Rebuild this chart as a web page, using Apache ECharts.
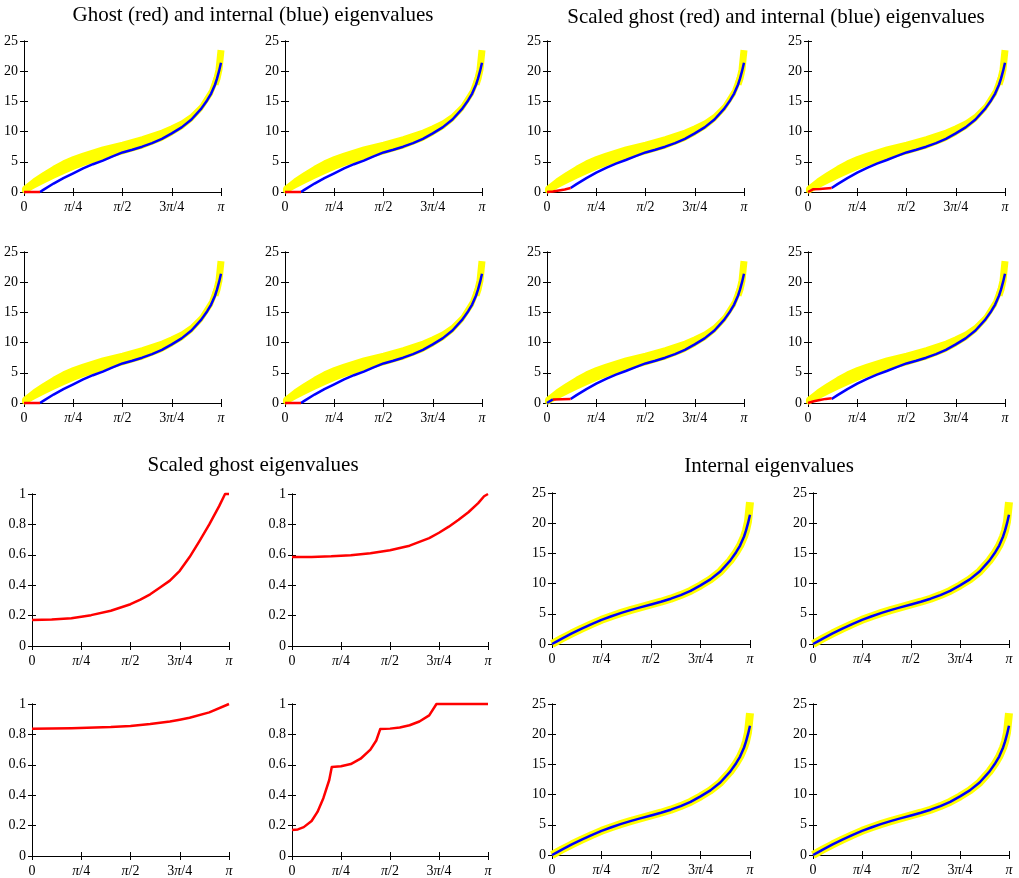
<!DOCTYPE html>
<html><head><meta charset="utf-8">
<script src="https://cdn.jsdelivr.net/npm/echarts@6/dist/echarts.min.js"></script>
<style>html,body{margin:0;padding:0;background:#fff}#c{width:1019px;height:878px}</style>
</head><body><div id="c"></div>
<script>
// ---------- tick labels / titles ----------
const thetaTicks = ['0', 'π/4', 'π/2', '3π/4', 'π'];
const titles = ['Ghost (red) and internal (blue) eigenvalues', 'Scaled ghost (red) and internal (blue) eigenvalues', 'Scaled ghost eigenvalues', 'Internal eigenvalues'];

// ---------- data (x in units of π) ----------
// internal eigenvalues (bottom-right panels)
const intX = [0, 0.025, 0.05, 0.1, 0.15, 0.2, 0.25, 0.3, 0.35, 0.4, 0.45, 0.5, 0.55, 0.6, 0.65, 0.7, 0.75, 0.8, 0.85, 0.9, 0.93, 0.95, 0.97, 0.98, 0.99, 1.0];
const intY = [0, 0.45, 0.9, 1.75, 2.55, 3.3, 4.0, 4.6, 5.15, 5.65, 6.1, 6.55, 7.0, 7.5, 8.1, 8.8, 9.7, 10.7, 12.0, 13.8, 15.2, 16.3, 17.8, 18.8, 20.0, 21.4];
// yellow reference curve (bottom-right panels)
const refX = [0, 0.025, 0.05, 0.1, 0.15, 0.2, 0.25, 0.3, 0.35, 0.4, 0.45, 0.5, 0.55, 0.6, 0.65, 0.7, 0.75, 0.8, 0.85, 0.9, 0.93, 0.95, 0.97, 0.98, 0.99, 1.0];
const refY = [0, 0.45, 0.9, 1.75, 2.55, 3.3, 4.0, 4.6, 5.15, 5.65, 6.1, 6.55, 7.0, 7.5, 8.1, 8.8, 9.7, 10.7, 12.0, 13.8, 15.2, 16.3, 17.8, 18.8, 20.3, 23.5];
// yellow band (top panels): lower and upper edges, plus the thick end piece
const bandX = [0, 0.05, 0.1, 0.15, 0.2, 0.25, 0.3, 0.4, 0.5, 0.6, 0.7, 0.75, 0.8, 0.85, 0.9, 0.95, 0.98, 0.99];
const bandLow = [0, 0.9, 1.75, 2.55, 3.3, 4.0, 4.6, 5.65, 6.55, 7.5, 8.8, 9.7, 10.7, 12.0, 13.8, 16.3, 18.8, 20.3];
const bandUp = [0.6, 1.9, 3.0, 4.0, 4.9, 5.6, 6.2, 7.2, 8.0, 8.9, 10.0, 10.7, 11.5, 12.6, 14.2, 16.8, 19.5, 20.6];
const bandTipX = [0.97, 0.98, 0.99, 1.0];
const bandTipY = [17.8, 18.8, 20.3, 23.5];
// top-left group
const tlRedX = [0, 0.081];
const tlRedY = [0, 0];
const tlBlueX = [0.081, 0.1, 0.15, 0.2, 0.25, 0.3, 0.35, 0.4, 0.45, 0.5, 0.55, 0.6, 0.65, 0.7, 0.75, 0.8, 0.85, 0.9, 0.93, 0.95, 0.97, 0.98, 0.99, 1.0];
const tlBlueY = [0, 0.4, 1.4, 2.3, 3.1, 3.9, 4.6, 5.2, 5.9, 6.55, 7.0, 7.5, 8.1, 8.8, 9.7, 10.7, 12.0, 13.8, 15.2, 16.3, 17.8, 18.8, 20.0, 21.4];
// top-right group
const trBlueX = [0.12, 0.15, 0.2, 0.25, 0.3, 0.35, 0.4, 0.45, 0.5, 0.55, 0.6, 0.65, 0.7, 0.75, 0.8, 0.85, 0.9, 0.93, 0.95, 0.97, 0.98, 0.99, 1.0];
const trBlueY = [0.65, 1.3, 2.3, 3.2, 4.0, 4.7, 5.3, 5.95, 6.55, 7.0, 7.5, 8.1, 8.8, 9.7, 10.7, 12.0, 13.8, 15.2, 16.3, 17.8, 18.8, 20.0, 21.4];
const tr1RedX = [0, 0.03, 0.06, 0.09, 0.12];
const tr1RedY = [0, 0.1, 0.25, 0.42, 0.65];
const tr2RedX = [0, 0.025, 0.06, 0.12];
const tr2RedY = [0, 0.45, 0.5, 0.65];
const tr3StartX = [0, 0.03];
const tr3StartY = [0, 0.6];
const tr3RedX = [0.03, 0.12];
const tr3RedY = [0.6, 0.65];
const tr4RedX = [0, 0.03, 0.06, 0.09, 0.12];
const tr4RedY = [0, 0.3, 0.5, 0.68, 0.8];
// bottom-left group (scaled ghost eigenvalues)
const bl1X = [0, 0.1, 0.2, 0.25, 0.3, 0.4, 0.5, 0.55, 0.6, 0.65, 0.7, 0.75, 0.8, 0.85, 0.9, 0.95, 0.98, 1.0];
const bl1Y = [0.171, 0.175, 0.183, 0.193, 0.203, 0.232, 0.275, 0.305, 0.34, 0.385, 0.43, 0.495, 0.585, 0.69, 0.80, 0.92, 1.0, 1.0];
const bl2X = [0, 0.1, 0.2, 0.3, 0.4, 0.5, 0.6, 0.7, 0.75, 0.8, 0.85, 0.9, 0.95, 0.98, 1.0];
const bl2Y = [0.585, 0.586, 0.59, 0.597, 0.61, 0.63, 0.66, 0.71, 0.745, 0.785, 0.83, 0.88, 0.94, 0.985, 1.0];
const bl3X = [0, 0.2, 0.4, 0.5, 0.6, 0.7, 0.75, 0.8, 0.9, 1.0];
const bl3Y = [0.837, 0.84, 0.848, 0.856, 0.868, 0.885, 0.897, 0.91, 0.945, 1.0];
const bl4X = [0, 0.03, 0.06, 0.1, 0.13, 0.16, 0.19, 0.203, 0.25, 0.3, 0.35, 0.4, 0.43, 0.45, 0.5, 0.55, 0.6, 0.65, 0.7, 0.737, 1.0];
const bl4Y = [0.171, 0.175, 0.19, 0.23, 0.29, 0.38, 0.50, 0.585, 0.59, 0.605, 0.64, 0.70, 0.76, 0.835, 0.838, 0.845, 0.86, 0.885, 0.925, 1.0, 1.0];

// ---------- layout ----------
const FONT = 'Liberation Serif';
const RED = '#ff0000', BLUE = '#0000ff', YEL = '#ffff00';
const rects = [
  [24, 41, 197, 151], [285, 41, 197, 151], [24, 252, 197, 151], [285, 252, 197, 151],
  [547, 41, 197, 151], [808, 41, 197, 151], [547, 252, 197, 151], [808, 252, 197, 151],
  [32, 494, 197, 152], [292, 494, 196, 152], [32, 704, 197, 152], [292, 704, 196, 152],
  [552, 493, 198, 151], [813, 493, 196, 151], [552, 704, 198, 151], [813, 704, 196, 151]
];
const titlePos = [[253, 5], [776, 7], [253, 455], [769, 456]];

const zip = (xs, ys) => xs.map((x, i) => [x, ys[i]]);
const grid = [], xAxis = [], yAxis = [], series = [];
const axLine = { show: true, lineStyle: { color: '#000', width: 1 } };
const tick = { show: true, inside: true, length: 4, lineStyle: { color: '#000', width: 1 } };

rects.forEach((r, gi) => {
  grid.push({ left: r[0], top: r[1], width: r[2], height: r[3], containLabel: false });
  const scaled = gi >= 8 && gi < 12;
  xAxis.push({ gridIndex: gi, type: 'value', min: 0, max: 1, interval: 0.25, position: 'bottom',
    axisLine: axLine, axisTick: tick, splitLine: { show: false },
    axisLabel: { margin: 8, color: '#000', fontFamily: FONT, fontSize: 14,
      formatter: v => { const s = thetaTicks[Math.round(v * 4)]; return s.replace('π', '{i|π}'); },
      rich: { i: { fontStyle: 'italic', fontFamily: FONT, fontSize: 14, color: '#000' } } } });
  xAxis.push({ gridIndex: gi, type: 'value', min: 0, max: 1, interval: 0.25, position: 'top',
    axisLine: axLine, axisTick: tick, splitLine: { show: false }, axisLabel: { show: false } });
  yAxis.push({ gridIndex: gi, type: 'value', min: 0, max: scaled ? 1 : 25, interval: scaled ? 0.2 : 5, position: 'left',
    axisLine: axLine, axisTick: tick, splitLine: { show: false },
    axisLabel: { margin: 6, color: '#000', fontFamily: FONT, fontSize: 14 } });
  yAxis.push({ gridIndex: gi, type: 'value', min: 0, max: scaled ? 1 : 25, interval: scaled ? 0.2 : 5, position: 'right',
    axisLine: axLine, axisTick: tick, splitLine: { show: false }, axisLabel: { show: false } });
});

function line(gi, xs, ys, color, width, z, extra) {
  series.push(Object.assign({ type: 'line', xAxisIndex: gi * 2, yAxisIndex: gi * 2, data: zip(xs, ys),
    showSymbol: false, symbol: 'none', clip: false, z: z, silent: true, animation: false,
    lineStyle: { color: color, width: width, cap: 'butt', join: 'round' } }, extra || {}));
}
function band(gi) {
  // filled region between the lower and upper yellow edges
  series.push({ type: 'custom', xAxisIndex: gi * 2, yAxisIndex: gi * 2, data: [[0, 0]], clip: false, silent: true, z: 1,
    animation: false,
    renderItem: (params, api) => {
      const up = bandX.map((x, i) => api.coord([x, bandUp[i]]));
      const lo = bandX.map((x, i) => api.coord([x, bandLow[i]])).reverse();
      return { type: 'polygon', shape: { points: up.concat(lo) }, style: { fill: YEL, stroke: YEL, lineWidth: 4, lineJoin: 'bevel' } };
    } });
  line(gi, bandTipX, bandTipY, YEL, 7, 1);
}
// top-left
for (let gi = 0; gi < 4; gi++) {
  band(gi);
  line(gi, tlBlueX, tlBlueY, BLUE, 2.5, 3);
  line(gi, tlRedX, tlRedY, RED, 2.5, 4);
}
// top-right
const trReds = [[tr1RedX, tr1RedY], [tr2RedX, tr2RedY], [tr3RedX, tr3RedY], [tr4RedX, tr4RedY]];
for (let k = 0; k < 4; k++) {
  const gi = 4 + k;
  band(gi);
  line(gi, trBlueX, trBlueY, BLUE, 2.5, 3);
  if (k === 2) line(gi, tr3StartX, tr3StartY, BLUE, 2.5, 3);
  line(gi, trReds[k][0], trReds[k][1], RED, 2.5, 4);
}
// bottom-left
[[bl1X, bl1Y], [bl2X, bl2Y], [bl3X, bl3Y], [bl4X, bl4Y]].forEach((d, k) => line(8 + k, d[0], d[1], RED, 2.5, 4));
// bottom-right
for (let k = 0; k < 4; k++) {
  line(12 + k, refX, refY, YEL, 8, 1);
  line(12 + k, intX, intY, BLUE, 2.5, 3);
}

const graphic = titles.map((t, i) => ({ type: 'text', x: titlePos[i][0], y: titlePos[i][1],
  style: { text: t, font: '21px "' + FONT + '"', fill: '#000', textAlign: 'center', textVerticalAlign: 'top' } }));

const chart = echarts.init(document.getElementById('c'), null, { renderer: 'canvas' });
chart.setOption({ animation: false, grid, xAxis, yAxis, series, graphic });
</script></body></html>
